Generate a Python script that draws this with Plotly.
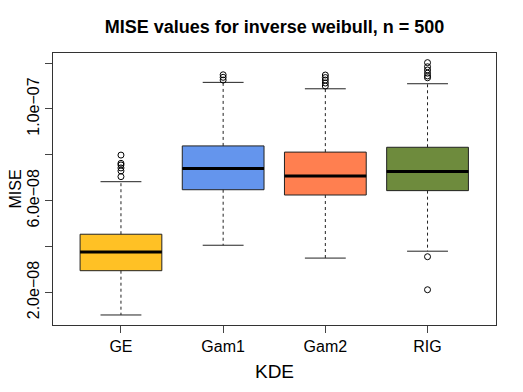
import plotly.graph_objects as go

# box statistics (R boxplot)
kde_names = ["GE", "Gam1", "Gam2", "RIG"]
box_colors = ["#FFC125", "#6495ED", "#FF7F50", "#6E8B3D"]
q1_vals = [2.95e-8, 6.48e-8, 6.25e-8, 6.44e-8]
median_vals = [3.77e-8, 7.40e-8, 7.08e-8, 7.27e-8]
q3_vals = [4.54e-8, 8.39e-8, 8.12e-8, 8.33e-8]
lower_whisker = [1.02e-8, 4.06e-8, 3.50e-8, 3.80e-8]
upper_whisker = [6.83e-8, 1.116e-7, 1.088e-7, 1.110e-7]

GE_outliers = [7.05e-8, 7.30e-8, 7.43e-8, 7.56e-8, 7.63e-8, 7.99e-8]
Gam1_outliers = [1.126e-7, 1.138e-7, 1.149e-7]
Gam2_outliers = [1.100e-7, 1.113e-7, 1.126e-7, 1.137e-7, 1.148e-7]
RIG_outliers = [2.12e-8, 3.56e-8, 1.136e-7, 1.144e-7, 1.156e-7, 1.170e-7, 1.184e-7, 1.202e-7]
all_outliers = [GE_outliers, Gam1_outliers, Gam2_outliers, RIG_outliers]

y_tickvals = [2e-8, 4e-8, 6e-8, 8e-8, 1e-7, 1.2e-7]
y_ticktext = ["2.0e\u221208", "", "6.0e\u221208", "", "1.0e\u221207", ""]

box_w = 0.8
font_name = "Liberation Sans, Arial, sans-serif"

fig = go.Figure()
for i, name in enumerate(kde_names):
    # the box itself (whiskers drawn separately so they can be dashed)
    fig.add_trace(go.Box(
        x=[i], q1=[q1_vals[i]], median=[median_vals[i]], q3=[q3_vals[i]],
        lowerfence=[q1_vals[i]], upperfence=[q3_vals[i]],
        width=box_w, whiskerwidth=0,
        fillcolor=box_colors[i], line=dict(color="#222222", width=1),
        showlegend=False, hoverinfo="skip",
    ))
    # dashed whiskers
    fig.add_trace(go.Scatter(
        x=[i, i, None, i, i],
        y=[q3_vals[i], upper_whisker[i], None, q1_vals[i], lower_whisker[i]],
        mode="lines", line=dict(color="#222222", width=1, dash="3px,3px"),
        showlegend=False, hoverinfo="skip",
    ))
    # whisker caps
    fig.add_trace(go.Scatter(
        x=[i - box_w / 4, i + box_w / 4, None, i - box_w / 4, i + box_w / 4],
        y=[upper_whisker[i], upper_whisker[i], None, lower_whisker[i], lower_whisker[i]],
        mode="lines", line=dict(color="#222222", width=1),
        showlegend=False, hoverinfo="skip",
    ))
    # thick median
    fig.add_trace(go.Scatter(
        x=[i - box_w / 2, i + box_w / 2],
        y=[median_vals[i], median_vals[i]],
        mode="lines", line=dict(color="black", width=3),
        showlegend=False, hoverinfo="skip",
    ))
    # outliers
    fig.add_trace(go.Scatter(
        x=[i] * len(all_outliers[i]), y=all_outliers[i],
        mode="markers",
        marker=dict(symbol="circle-open", size=6, color="black", line=dict(width=1)),
        showlegend=False, hoverinfo="skip",
    ))

# page body has an 8px margin, so the figure is 8px smaller and margins shifted
fig.update_layout(
    width=515, height=384,
    margin=dict(l=45, r=27, t=45, b=67),
    paper_bgcolor="white", plot_bgcolor="white",
    font=dict(family=font_name, size=16, color="black"),
    title=dict(
        text="<b>MISE values for inverse weibull, n = 500</b>",
        x=0.5, xref="paper", xanchor="center",
        y=1 - 19 / 384, yref="container", yanchor="middle",
        font=dict(size=18),
    ),
)
# y axis title as annotation so it can sit further left than plotly puts it
fig.add_annotation(
    text="MISE", textangle=-90, showarrow=False,
    xref="paper", yref="paper", x=-0.0847, y=0.5,
    xanchor="center", yanchor="middle", font=dict(size=16),
)
fig.update_xaxes(
    range=[-0.665, 3.67], tickmode="array",
    tickvals=list(range(len(kde_names))), ticktext=kde_names,
    ticks="outside", ticklen=7, tickcolor="#444444",
    showline=True, mirror=True, linecolor="#333333", linewidth=1,
    showgrid=False, zeroline=False, automargin=False,
    title=dict(text="KDE", standoff=10),
)
fig.update_yaxes(
    range=[0.583e-8, 1.244e-7], tickmode="array",
    tickvals=y_tickvals, ticktext=y_ticktext, tickangle=-90,
    ticks="outside", ticklen=7, tickcolor="#444444",
    showline=True, mirror=True, linecolor="#333333", linewidth=1,
    showgrid=False, zeroline=False, automargin=False,
)

fig.write_html("out.html")
